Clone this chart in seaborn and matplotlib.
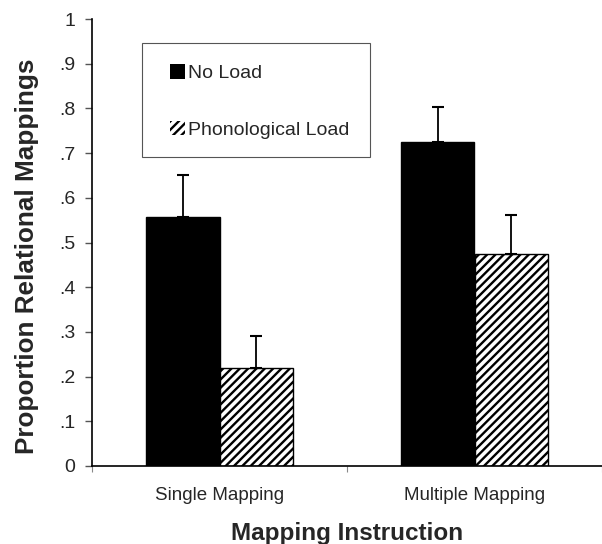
import matplotlib
matplotlib.use("Agg")
import matplotlib.pyplot as plt
import seaborn as sns
import pandas as pd
from matplotlib.patches import Patch, Rectangle

categories = ["Single Mapping", "Multiple Mapping"]
conditions = ["No Load", "Phonological Load"]
no_load = [0.557, 0.725]
no_load_err = [0.094, 0.078]
phon_load = [0.219, 0.474]
phon_load_err = [0.072, 0.088]
ytick_vals = [0, .1, .2, .3, .4, .5, .6, .7, .8, .9, 1]
ytick_labels = ["0", ".1", ".2", ".3", ".4", ".5", ".6", ".7", ".8", ".9", "1"]

df = pd.DataFrame({
    "Instruction": categories * 2,
    "Condition": [conditions[0]] * 2 + [conditions[1]] * 2,
    "Proportion": no_load + phon_load,
    "Err": no_load_err + phon_load_err,
})

sns.set_style("ticks")
plt.rcParams["font.family"] = ["Liberation Sans", "DejaVu Sans"]
plt.rcParams["hatch.linewidth"] = 1.7
plt.rcParams["hatch.color"] = "black"

fig = plt.figure(figsize=(6.02, 5.44), dpi=100)
ax = fig.add_axes([92 / 602, 78 / 544, 510 / 602, 447 / 544])

sns.barplot(data=df, x="Instruction", y="Proportion", hue="Condition",
            order=categories, hue_order=conditions,
            palette=["black", "white"], width=0.58, gap=0,
            edgecolor="black", linewidth=1.0, errorbar=None, ax=ax,
            legend=False)

bars = ax.patches
for i, bar in enumerate(bars):
    cond_idx = i // 2
    cat_idx = i % 2
    if cond_idx == 1:
        bar.set_hatch("////")
        bar.set_facecolor("white")
    sub = df[(df["Condition"] == conditions[cond_idx]) & (df["Instruction"] == categories[cat_idx])]
    xc = bar.get_x() + bar.get_width() / 2
    h = bar.get_height()
    err = float(sub["Err"].iloc[0])
    ax.errorbar([xc], [h], yerr=[[0], [err]], fmt="none", ecolor="black",
                elinewidth=1.3, capsize=4, capthick=1.5, zorder=3)

ax.set_xlim(-0.5, 1.484)
ax.set_ylim(0, 1)
ax.set_yticks(ytick_vals)
ax.set_yticklabels(ytick_labels, fontsize=14)
ax.set_xticks([0, 1])
ax.set_xticklabels(categories, fontsize=13.5)
ax.tick_params(axis="x", which="major", length=0, pad=15)
ax.set_xticks([-0.5, 0.5, 1.5], minor=True)
ax.tick_params(axis="x", which="minor", length=4, width=0.8, color="#888888", direction="out")
ax.tick_params(axis="y", length=5, width=1.0, pad=7, color="#555555")

for s in ["top", "right"]:
    ax.spines[s].set_visible(False)
for s in ["left", "bottom"]:
    ax.spines[s].set_linewidth(1.2)
    ax.spines[s].set_color("black")

ax.set_ylabel("Proportion Relational Mappings", fontsize=18.8, fontweight="bold")
ax.yaxis.set_label_coords(-(92 - 39) / 510, 0.47)
ax.set_xlabel("Mapping Instruction", fontsize=17.5, fontweight="bold", labelpad=13)

# legend box
ax.add_patch(Rectangle(((142 - 92) / 510, (466 - 157) / 447), 228 / 510, 114 / 447,
                       transform=ax.transAxes, facecolor="white", edgecolor="#555555",
                       linewidth=0.8, zorder=4))

handles = [Patch(facecolor="black", edgecolor="black", linewidth=0, label=conditions[0]),
           Patch(facecolor="white", edgecolor="black", linewidth=0, hatch="////", label=conditions[1])]
leg = ax.legend(handles=handles, loc="upper left",
                bbox_to_anchor=(58 / 510, 1 - 25 / 447),
                fontsize=14, frameon=False, borderpad=1.05,
                labelspacing=2.0, handlelength=0.75, handleheight=0.75,
                handletextpad=0.15, borderaxespad=0)
leg.set_zorder(5)

fig.savefig("out.png", dpi=100)
